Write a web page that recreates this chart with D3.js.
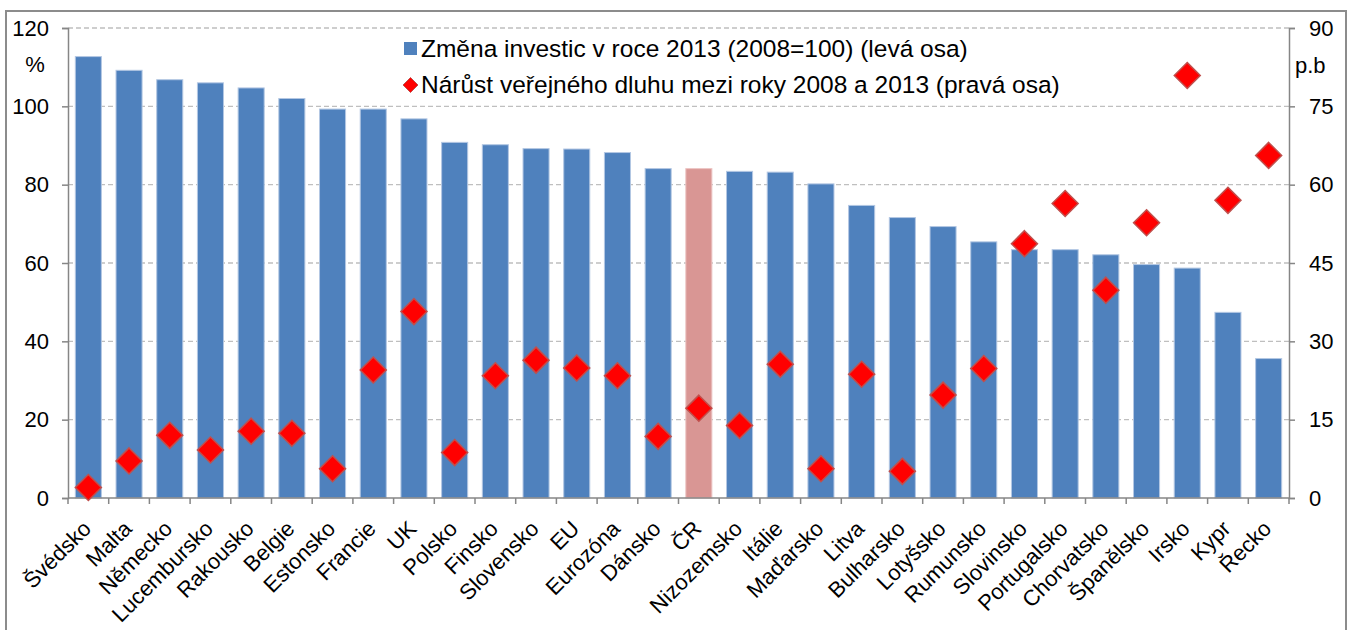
<!DOCTYPE html>
<html><head><meta charset="utf-8">
<script src="https://cdn.jsdelivr.net/npm/d3@7"></script>
<style>
html,body{margin:0;padding:0;background:#fff;}
svg{display:block;font-family:"Liberation Sans",Arial,sans-serif;}
</style></head>
<body><svg id="c" width="1349" height="630"></svg>
<script>
const categories = ["Švédsko","Malta","Německo","Lucembursko","Rakousko","Belgie","Estonsko","Francie","UK","Polsko","Finsko","Slovensko","EU","Eurozóna","Dánsko","ČR","Nizozemsko","Itálie","Maďarsko","Litva","Bulharsko","Lotyšsko","Rumunsko","Slovinsko","Portugalsko","Chorvatsko","Španělsko","Irsko","Kypr","Řecko"];
const investChange = [112.7,109.2,106.8,106.0,104.7,102.0,99.3,99.3,96.8,90.8,90.2,89.2,89.1,88.2,84.1,84.1,83.4,83.2,80.2,74.7,71.6,69.3,65.4,63.4,63.4,62.1,59.6,58.7,47.4,35.6];
const debtIncrease = [2.0,7.1,12.0,9.2,12.8,12.4,5.6,24.5,35.7,8.7,23.4,26.4,24.9,23.4,11.8,17.2,13.9,25.6,5.6,23.7,5.1,19.7,24.8,48.7,56.4,39.8,52.7,80.9,57.0,65.6];
const leftTicks = [0,20,40,60,80,100,120];
const rightTicks = [0,15,30,45,60,75,90];
const legendLabels = ["Změna investic v roce 2013 (2008=100) (levá osa)","Nárůst veřejného dluhu mezi roky 2008 a 2013 (pravá osa)"];
const highlight = "ČR";

const svg = d3.select("#c");
const L = 68, R = 1289, T = 28, B = 498;
const axisColor = "#868686", gridColor = "#BFBFBF";
const FS = 22;

// outer border
svg.append("rect").attr("x",6).attr("y",11).attr("width",1340).attr("height",650)
  .attr("fill","none").attr("stroke","#8c8c8c").attr("stroke-width",2);

const x = d3.scaleBand().domain(categories).range([L,R]).paddingInner(0.36).paddingOuter(0.18);
const yL = d3.scaleLinear().domain([0,120]).range([B,T]);
const yR = d3.scaleLinear().domain([0,90]).range([B,T]);

// gridlines
svg.append("g").selectAll("line").data(leftTicks.filter(d=>d>0)).join("line")
  .attr("x1",L).attr("x2",R).attr("y1",d=>yL(d)).attr("y2",d=>yL(d))
  .attr("stroke",gridColor).attr("stroke-width",1.3).attr("stroke-dasharray","5,3");

// bars
svg.append("g").selectAll("rect").data(categories).join("rect")
  .attr("x",d=>x(d)).attr("width",x.bandwidth())
  .attr("y",(d,i)=>yL(investChange[i])).attr("height",(d,i)=>B-yL(investChange[i]))
  .attr("fill",d=>d===highlight?"#D99694":"#4F81BD")
  .attr("stroke",d=>d===highlight?"#ECC4C3":"#B3C7E3").attr("stroke-width",1);

// left axis
const gl = svg.append("g").attr("transform",`translate(${L},0)`)
  .call(d3.axisLeft(yL).tickValues(leftTicks).tickSize(6).tickPadding(13));
gl.select(".domain").attr("stroke",axisColor).attr("stroke-width",1.5);
gl.selectAll(".tick line").attr("stroke",axisColor).attr("stroke-width",1.5);
gl.selectAll(".tick text").attr("font-size",FS).attr("fill","#000").attr("font-family","Liberation Sans, Arial, sans-serif");

// right axis
const gr = svg.append("g").attr("transform",`translate(${R},0)`)
  .call(d3.axisRight(yR).tickValues(rightTicks).tickSize(6).tickPadding(14));
gr.select(".domain").attr("stroke",axisColor).attr("stroke-width",1.5);
gr.selectAll(".tick line").attr("stroke",axisColor).attr("stroke-width",1.5);
gr.selectAll(".tick text").attr("font-size",FS).attr("fill","#000").attr("font-family","Liberation Sans, Arial, sans-serif");

// bottom axis
const boundaries = categories.map(c=>x(c)-x.step()*x.paddingInner()/2).concat([R]);
svg.append("line").attr("x1",L).attr("x2",R).attr("y1",B).attr("y2",B)
  .attr("stroke",axisColor).attr("stroke-width",1.5);
svg.append("g").selectAll("line").data(boundaries).join("line")
  .attr("x1",d=>d).attr("x2",d=>d).attr("y1",B).attr("y2",B+6)
  .attr("stroke",axisColor).attr("stroke-width",1.5);
svg.append("g").selectAll("text").data(categories).join("text")
  .attr("transform",d=>`translate(${x(d)+x.bandwidth()/2+4},${B+32}) rotate(-45)`)
  .attr("text-anchor","end").attr("font-size",FS).attr("fill","#000").text(d=>d);

// diamonds
const diamond = (cx,cy,r)=>`M${cx},${cy-r}L${cx+r},${cy}L${cx},${cy+r}L${cx-r},${cy}Z`;
svg.append("g").selectAll("path").data(categories).join("path")
  .attr("d",(d,i)=>diamond(x(d)+x.bandwidth()/2,yR(debtIncrease[i]),13))
  .attr("fill","#FF0000").attr("stroke","#C0504D").attr("stroke-width",1.5);

// unit labels
svg.append("text").attr("x",35).attr("y",72).attr("text-anchor","middle").attr("font-size",FS).text("%");
svg.append("text").attr("x",1295).attr("y",73).attr("font-size",FS).text("p.b");

// legend
svg.append("rect").attr("x",404).attr("y",42).attr("width",13).attr("height",13).attr("fill","#4F81BD");
svg.append("text").attr("x",421).attr("y",57).attr("font-size",24.5).text(legendLabels[0]);
svg.append("path").attr("d",diamond(410.5,85,7.5)).attr("fill","#FF0000").attr("stroke","#C0504D").attr("stroke-width",1);
svg.append("text").attr("x",421).attr("y",93).attr("font-size",24.5).text(legendLabels[1]);
</script></body></html>
